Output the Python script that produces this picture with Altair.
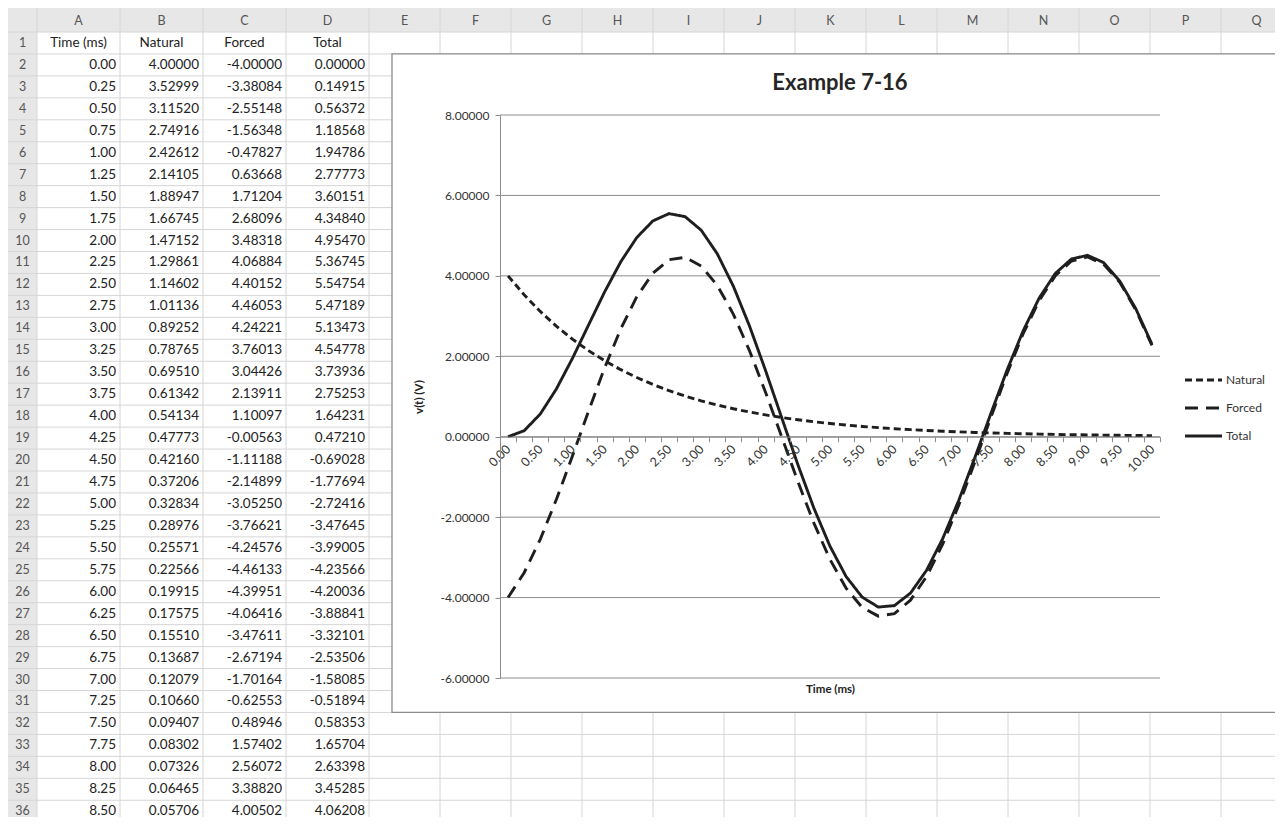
import altair as alt
import pandas as pd

# ---------------- data (read from the spreadsheet / chart) ----------------
time_ms = [0.00, 0.25, 0.50, 0.75, 1.00, 1.25, 1.50, 1.75, 2.00, 2.25,
           2.50, 2.75, 3.00, 3.25, 3.50, 3.75, 4.00, 4.25, 4.50, 4.75,
           5.00, 5.25, 5.50, 5.75, 6.00, 6.25, 6.50, 6.75, 7.00, 7.25,
           7.50, 7.75, 8.00, 8.25, 8.50, 8.75, 9.00, 9.25, 9.50, 9.75, 10.00]
natural = [4.00000, 3.52999, 3.11520, 2.74916, 2.42612, 2.14105, 1.88947, 1.66745, 1.47152, 1.29861,
           1.14602, 1.01136, 0.89252, 0.78765, 0.69510, 0.61342, 0.54134, 0.47773, 0.42160, 0.37206,
           0.32834, 0.28976, 0.25571, 0.22566, 0.19915, 0.17575, 0.15510, 0.13687, 0.12079, 0.10660,
           0.09407, 0.08302, 0.07326, 0.06465, 0.05706, 0.05035, 0.04444, 0.03922, 0.03461, 0.03054, 0.02695]
forced = [-4.00000, -3.38084, -2.55148, -1.56348, -0.47827, 0.63668, 1.71204, 2.68096, 3.48318, 4.06884,
          4.40152, 4.46053, 4.24221, 3.76013, 3.04426, 2.13911, 1.10097, -0.00563, -1.11188, -2.14899,
          -3.05250, -3.76621, -4.24576, -4.46133, -4.39951, -4.06416, -3.47611, -2.67194, -1.70164, -0.62553,
          0.48946, 1.57402, 2.56072, 3.38820, 4.00502, 4.37, 4.47, 4.29, 3.84, 3.15, 2.27]
total = [0.00000, 0.14915, 0.56372, 1.18568, 1.94786, 2.77773, 3.60151, 4.34840, 4.95470, 5.36745,
         5.54754, 5.47189, 5.13473, 4.54778, 3.73936, 2.75253, 1.64231, 0.47210, -0.69028, -1.77694,
         -2.72416, -3.47645, -3.99005, -4.23566, -4.20036, -3.88841, -3.32101, -2.53506, -1.58085, -0.51894,
         0.58353, 1.65704, 2.63398, 3.45285, 4.06208, 4.42, 4.51, 4.33, 3.87, 3.18, 2.30]

series_names = ["Natural", "Forced", "Total"]
table_headers = ["Time (ms)", "Natural", "Forced", "Total"]
table_cols = ["A", "B", "C", "D"]
other_cols = ["E", "F", "G", "H", "I", "J", "K", "L", "M", "N", "O", "P", "Q"]
sheet_rows = [str(i) for i in range(1, 37)]
y_ticks = [-6, -4, -2, 0, 2, 4, 6, 8]
chart_title = "Example 7-16"
x_title = "Time (ms)"
y_title = "v(t) (V)"
rows_shown = 35  # spreadsheet rows 2..36

# ---------------- layout / style ----------------
FONT = "Lato"
W, H = 1267, 809
HDR = 24          # column-letter header height
RH = 21.95        # spreadsheet row height
GRID = "#d6d6d6"
HEAD_BG = "#e7e7e7"
LINE = "#1e1e1e"
AX = "#8c8c8c"
MINUS = "\u2212"

ys_rows = alt.Scale(type="band", domain=sheet_rows, range=[HDR, HDR + 36 * RH],
                    paddingInner=0, paddingOuter=0)
xs_ad = alt.Scale(type="band", domain=table_cols, range=[29, 361], paddingInner=0, paddingOuter=0)
xs_eq = alt.Scale(type="band", domain=other_cols, range=[361, 1284], paddingInner=0, paddingOuter=0)

time_labels = [f"{t:.2f}" for t in time_ms]
CX0, CX1 = 492, 1152
CY_LO, CY_HI = 670, 107
xs_chart = alt.Scale(type="band", domain=time_labels, range=[CX0, CX1], paddingInner=0, paddingOuter=0)
ys_chart = alt.Scale(domain=[-6, 8], range=[CY_LO, CY_HI], nice=False, zero=False)
zero_y = CY_LO - (0 - (-6)) / 14 * (CY_LO - CY_HI)
dash_scale = alt.Scale(domain=series_names, range=[[7, 4], [13, 8], [1, 0]])

one = pd.DataFrame({"k": [0]})

# ---------------- spreadsheet ----------------
hdr_bg = alt.Chart(one).mark_rect(color=HEAD_BG).encode(
    x=alt.value(0), x2=alt.value(W), y=alt.value(0), y2=alt.value(HDR))
rownum_bg = alt.Chart(one).mark_rect(color=HEAD_BG).encode(
    x=alt.value(0), x2=alt.value(29), y=alt.value(HDR), y2=alt.value(H))

rows_df = pd.DataFrame({"r": sheet_rows})
h_rules = alt.Chart(rows_df).mark_rule(color=GRID, strokeWidth=1).encode(
    y=alt.Y("r:N", scale=ys_rows, bandPosition=0, axis=None))

ad_df = pd.DataFrame({"c": table_cols})
eq_df = pd.DataFrame({"c": other_cols})
v_rules_ad = alt.Chart(ad_df).mark_rule(color=GRID, strokeWidth=1).encode(
    x=alt.X("c:N", scale=xs_ad, bandPosition=0, axis=None))
v_rules_eq = alt.Chart(eq_df).mark_rule(color=GRID, strokeWidth=1).encode(
    x=alt.X("c:N", scale=xs_eq, bandPosition=0, axis=None))

letters_ad = alt.Chart(ad_df).mark_text(font=FONT, fontSize=12.5, color="#555", baseline="middle").encode(
    x=alt.X("c:N", scale=xs_ad, axis=None), y=alt.value(HDR / 2 + 1), text="c:N")
letters_eq = alt.Chart(eq_df).mark_text(font=FONT, fontSize=12.5, color="#555", baseline="middle").encode(
    x=alt.X("c:N", scale=xs_eq, axis=None), y=alt.value(HDR / 2 + 1), text="c:N")

row_nums = alt.Chart(rows_df).mark_text(font=FONT, fontSize=12.5, color="#555", baseline="middle").encode(
    x=alt.value(14.5), y=alt.Y("r:N", scale=ys_rows, axis=None), text="r:N")

head_df = pd.DataFrame({"c": table_cols, "h": table_headers, "r": ["1"] * 4})
head_text = alt.Chart(head_df).mark_text(font=FONT, fontSize=13.5, color="#222", baseline="middle").encode(
    x=alt.X("c:N", scale=xs_ad, axis=None), y=alt.Y("r:N", scale=ys_rows, axis=None), text="h:N")

time_df = pd.DataFrame({"c": "A", "r": [str(i + 2) for i in range(rows_shown)],
                        "v": time_ms[:rows_shown]})
time_text = alt.Chart(time_df).transform_calculate(
    lab=f"replace(format(datum.v, '.2f'), '{MINUS}', '-')"
).mark_text(font=FONT, fontSize=13.5, color="#222", align="right", baseline="middle", dx=-4).encode(
    x=alt.X("c:N", scale=xs_ad, bandPosition=1, axis=None),
    y=alt.Y("r:N", scale=ys_rows, axis=None),
    text="lab:N")

val_records = []
for col, vals in zip(["B", "C", "D"], [natural, forced, total]):
    for i in range(rows_shown):
        val_records.append({"c": col, "r": str(i + 2), "v": vals[i]})
val_df = pd.DataFrame(val_records)
val_text = alt.Chart(val_df).transform_calculate(
    lab=f"replace(format(datum.v, '.5f'), '{MINUS}', '-')"
).mark_text(font=FONT, fontSize=13.5, color="#222", align="right", baseline="middle", dx=-4).encode(
    x=alt.X("c:N", scale=xs_ad, bandPosition=1, axis=None),
    y=alt.Y("r:N", scale=ys_rows, axis=None),
    text="lab:N")

# ---------------- embedded chart ----------------
box = alt.Chart(one).mark_rect(fill="white", stroke=AX, strokeWidth=1.3).encode(
    x=alt.value(384), x2=alt.value(W + 20), y=alt.value(HDR + RH), y2=alt.value(HDR + 31 * RH))

grid_df = pd.DataFrame({"g": y_ticks})
grid = alt.Chart(grid_df).mark_rule(color=AX, strokeWidth=1).encode(
    y=alt.Y("g:Q", scale=ys_chart, axis=None), x=alt.value(CX0), x2=alt.value(CX1))

recs = []
for name, vals in zip(series_names, [natural, forced, total]):
    for t, lab, v in zip(time_ms, time_labels, vals):
        recs.append({"t": t, "tl": lab, "series": name, "v": v})
lines_df = pd.DataFrame(recs)

x_axis = alt.Axis(orient="bottom", offset=zero_y - H, title=x_title, titleFont=FONT, titleFontSize=11.5,
                  titleFontWeight="bold", titleColor="#222", titleY=253, titleBaseline="middle",
                  labelAngle=315, labelAlign="right", labelBaseline="middle", labelPadding=5,
                  labelFont=FONT, labelFontSize=12.5, labelColor="#333", labelOverlap=False,
                  labelExpr="(round(toNumber(datum.value) * 4) % 2 == 0) ? datum.value : ''",
                  tickBand="extent", tickSize=5, tickColor=AX, domainColor=AX, grid=False, zindex=1)
y_axis = alt.Axis(orient="left", offset=-CX0, values=y_ticks, format=".5f", grid=False, tickSize=5,
                  tickColor=AX, domainColor=AX, labelPadding=6, labelFont=FONT, labelFontSize=12,
                  labelColor="#333", labelExpr=f"replace(datum.label, '{MINUS}', '-')",
                  title=y_title, titleFont=FONT, titleFontSize=11.5,
                  titleFontWeight="bold", titleColor="#222", titleX=-81, titleAngle=270,
                  titleBaseline="middle", zindex=1)

lines = alt.Chart(lines_df).mark_line(color=LINE, strokeWidth=2.9).encode(
    x=alt.X("tl:O", scale=xs_chart, axis=x_axis),
    y=alt.Y("v:Q", scale=ys_chart, axis=y_axis),
    strokeDash=alt.StrokeDash("series:N", scale=dash_scale, legend=None),
    order=alt.Order("t:Q"))

leg_df = pd.DataFrame({"series": series_names})
leg_scale = alt.Scale(type="point", domain=series_names, range=[372, 428], padding=0)
leg_sym = alt.Chart(leg_df).mark_rule(color=LINE, strokeWidth=2.9).encode(
    y=alt.Y("series:N", scale=leg_scale, axis=None),
    x=alt.value(1177), x2=alt.value(1214),
    strokeDash=alt.StrokeDash("series:N", scale=dash_scale, legend=None))
leg_txt = alt.Chart(leg_df).mark_text(font=FONT, fontSize=12, color="#333", align="left",
                                      baseline="middle").encode(
    y=alt.Y("series:N", scale=leg_scale, axis=None), x=alt.value(1218), text="series:N")

title_df = pd.DataFrame({"t": [chart_title]})
title = alt.Chart(title_df).mark_text(font=FONT, fontSize=22, fontWeight="bold", color="#262626",
                                      align="center", baseline="middle").encode(
    x=alt.value(832), y=alt.value(75), text="t:N")

chart = alt.layer(
    hdr_bg, rownum_bg, h_rules, v_rules_ad, v_rules_eq, letters_ad, letters_eq, row_nums,
    head_text, time_text, val_text, box, grid, lines, leg_sym, leg_txt, title
).resolve_scale(
    x="independent", y="independent", strokeDash="independent"
).properties(
    width=W, height=H, padding=0, autosize=alt.AutoSizeParams(type="none")
).configure_view(stroke=None).configure(font=FONT, background="white")

chart.save("out.html", embed_options={"renderer": "svg", "actions": False})
